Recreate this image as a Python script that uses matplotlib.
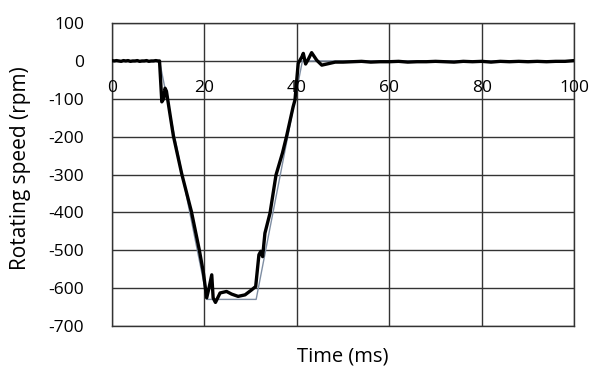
import matplotlib
matplotlib.use('Agg')
import matplotlib.pyplot as plt

plt.rcParams['font.family'] = ['Open Sans', 'DejaVu Sans']
plt.rcParams['axes.unicode_minus'] = False

# command (thin grey line)
ref_t = [0, 10.3, 20.6, 31.2, 41.2, 100]
ref_v = [0, 0, -630, -630, 0, 0]

# measured speed (thick black line)
meas_t = [0, 0.5, 1, 1.5, 2, 2.5, 3, 3.5, 4, 4.5, 5, 5.5, 6, 6.5, 7, 7.5, 8, 8.5, 9, 9.5, 10, 10.3,
          10.8, 11.2, 11.5, 11.8, 12.3, 13.3, 15.1, 17.2, 18.9, 19.8, 20.5, 21.0, 21.6, 21.9, 22.4,
          23.4, 24.8, 25.9, 27.3, 28.8, 30.2, 31.1, 31.8, 32.2, 32.6, 33.1, 34.2, 35.5, 36.9,
          37.8, 39.2, 39.6, 40.3, 41.1, 41.4, 41.9, 42.5, 43.2, 44.3, 45.4, 46.5, 48.3,
          50, 52, 54, 56, 58, 60, 62, 64, 66, 68, 70, 72, 74, 76, 78, 80, 82, 84, 86, 88,
          90, 92, 94, 96, 98, 100]
meas_v = [1, 0, 1, 0, -1, 1, 0, 1, -1, 0, 0, 1, -1, 0, 0, 1, -1, 0, 0, 1, 0, 0,
          -108, -100, -72, -80, -120, -198, -298, -398, -499, -560, -626, -600, -565, -626, -638,
          -613, -609, -616, -622, -618, -605, -596, -512, -503, -517, -455, -402, -301, -243,
          -198, -121, -103, -6, 11, 20, -8, 5, 22, 2, -11, -8, -3,
          -3, -2, -1, -3, -2, -2, -1, -3, -2, -2, -1, -2, -3, -1, -2, -1, -3, -1, -2, -1,
          -2, -1, -2, -1, -1, 1]

xticks = [0, 20, 40, 60, 80, 100]
yticks = [100, 0, -100, -200, -300, -400, -500, -600, -700]


def main():
    fig = plt.figure(figsize=(5.92, 3.67), dpi=100)
    ax = fig.add_axes([0.189, 0.112, 0.781, 0.825])

    ax.plot(ref_t, ref_v, color='#7f8ea3', lw=1.0, zorder=3)
    ax.plot(meas_t, meas_v, color='black', lw=2.4, zorder=4)

    ax.set_xlim(0, 100)
    ax.set_ylim(-700, 100)
    ax.set_xticks(xticks)
    ax.set_yticks(yticks)
    ax.set_xticklabels([])
    ax.tick_params(axis='both', length=0, labelsize=12.5)
    ax.tick_params(axis='y', pad=20)
    ax.grid(True, color='#333333', lw=1.0)
    for s in ax.spines.values():
        s.set_color('#333333')
        s.set_linewidth(1.0)

    # x tick labels sit inside the plot, just under the zero line
    for x in xticks:
        ax.text(x, -72, str(x), ha='center', va='center', fontsize=12.5)

    ax.set_ylabel('Rotating speed (rpm)', fontsize=15)
    ax.yaxis.set_label_coords(-0.175, 0.52)
    ax.set_xlabel('Time (ms)', fontsize=14.5)
    ax.xaxis.set_label_coords(0.5, -0.068)

    fig.savefig('out.png', dpi=100)


if __name__ == '__main__':
    main()
